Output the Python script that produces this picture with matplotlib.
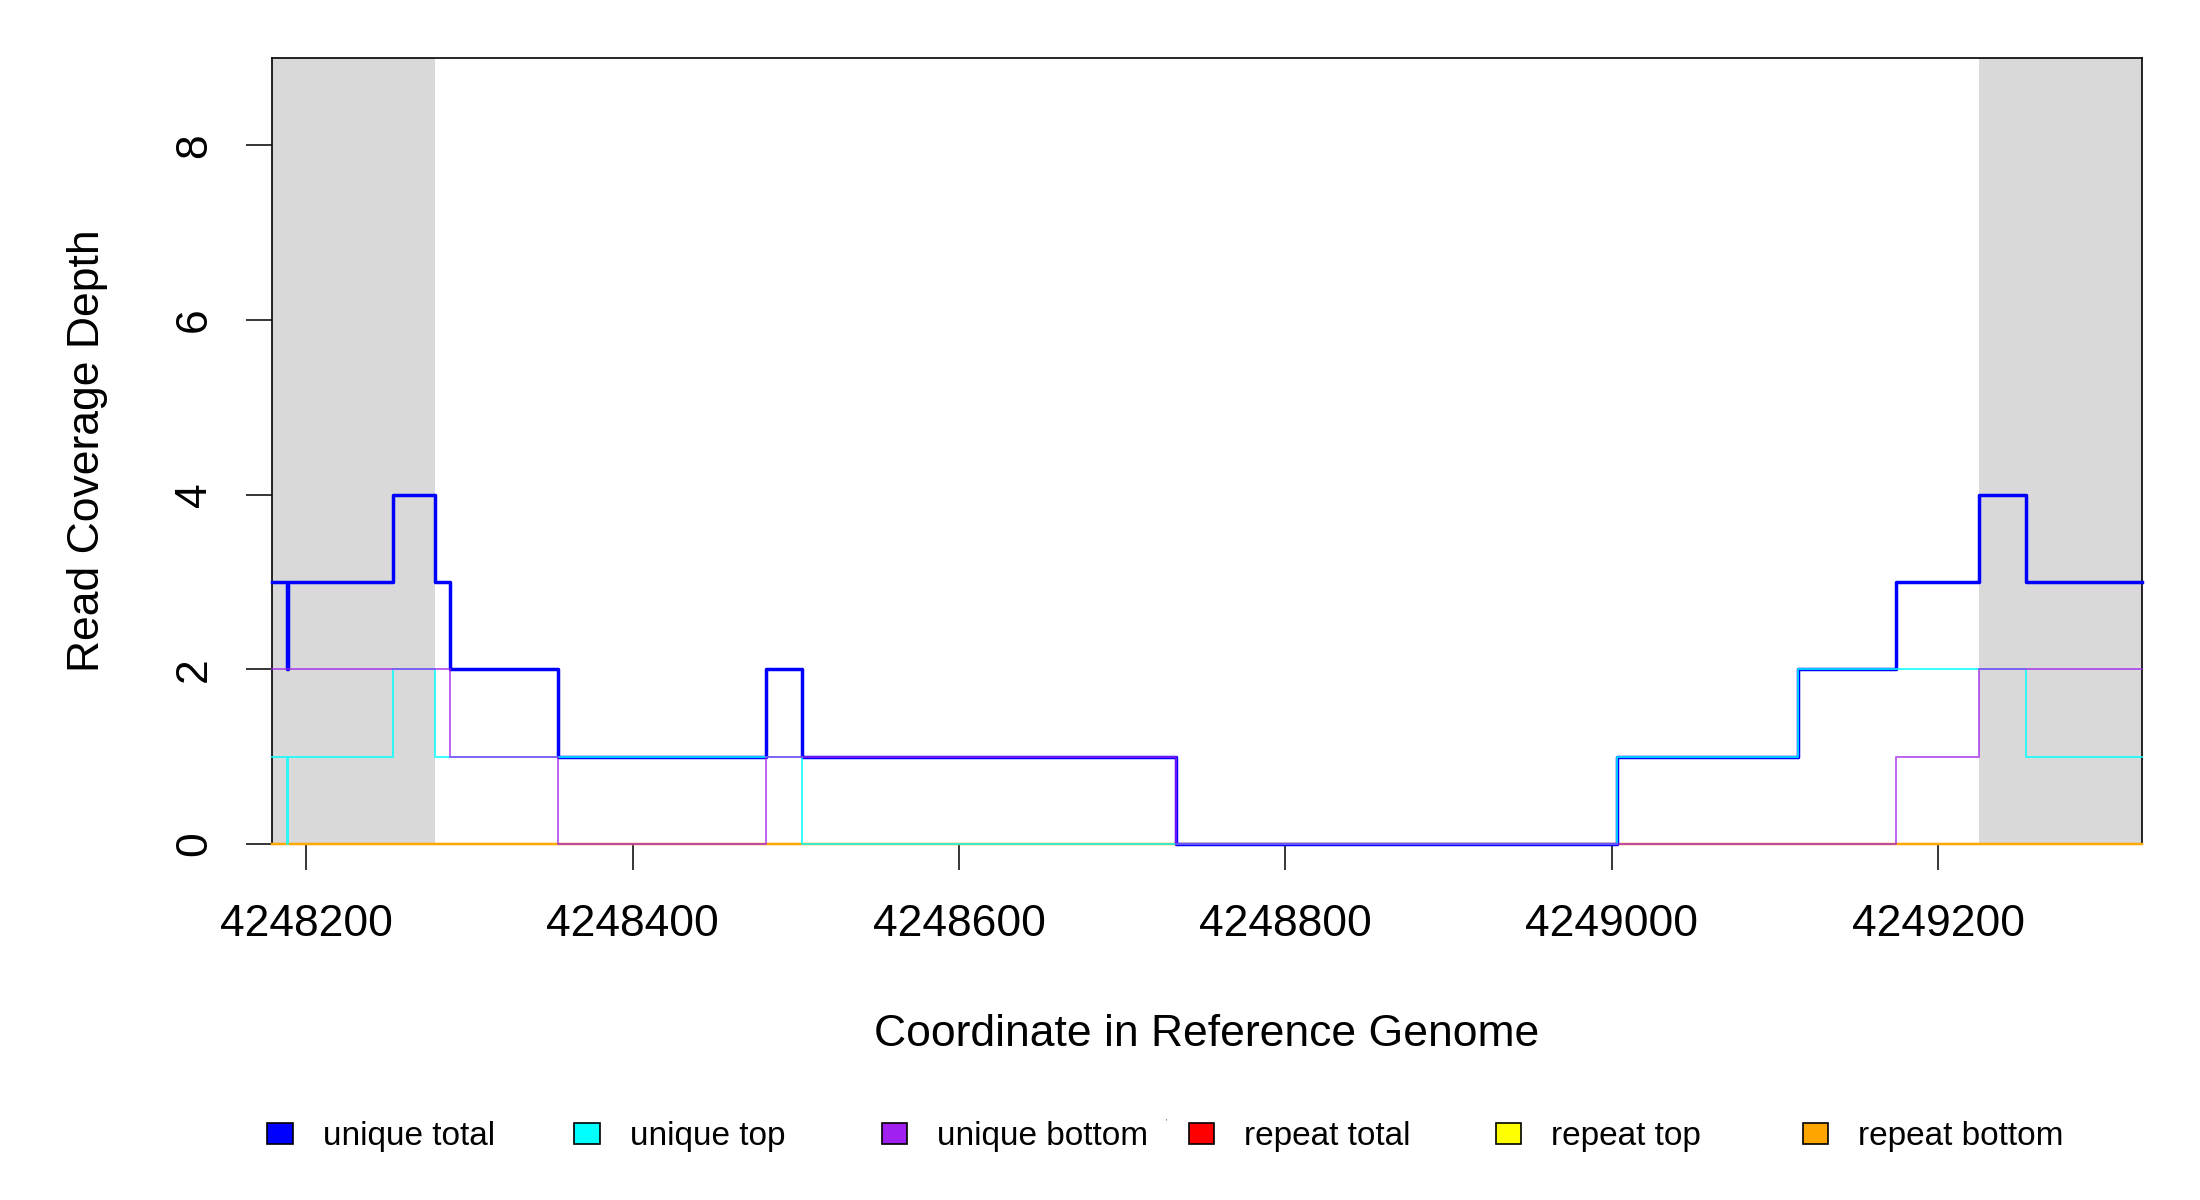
import matplotlib
matplotlib.use("Agg")
import matplotlib.pyplot as plt
from matplotlib.patches import Rectangle

plt.rcParams['font.family'] = ['Liberation Sans', 'DejaVu Sans']

# ---- data ----
positions = [4248179, 4248188, 4248189, 4248253, 4248279, 4248288, 4248354,
             4248482, 4248504, 4248733, 4249003, 4249114, 4249174, 4249225,
             4249254, 4249325]
unique_total = [3, 2, 3, 4, 3, 2, 1, 2, 1, 0, 1, 2, 3, 4, 3, 3]
unique_top = [1, 0, 1, 2, 1, 1, 1, 1, 0, 0, 1, 2, 2, 2, 1, 1]
unique_bottom = [2, 2, 2, 2, 2, 1, 0, 1, 1, 0, 0, 0, 1, 2, 2, 2]
repeat_total = [0] * len(positions)
repeat_top = [0] * len(positions)
repeat_bottom = [0] * len(positions)

shaded_regions = [(4248179, 4248279), (4249225, 4249325)]
x_limits = (4248179, 4249325)
y_limits = (0, 9)
x_ticks = [4248200, 4248400, 4248600, 4248800, 4249000, 4249200]
y_ticks = [0, 2, 4, 6, 8]

legend_labels = ["unique total", "unique top", "unique bottom",
                 "repeat total", "repeat top", "repeat bottom"]
legend_colors = ["#0000ff", "#00ffff", "#a020f0", "#ff0000", "#ffff00", "#ffa500"]

# ---- figure ----
W, H = 2200, 1200
fig = plt.figure(figsize=(22, 12), dpi=100)
ax = fig.add_axes([272 / W, 1 - 844 / H, (2142 - 272) / W, (844 - 58) / H])

for a, b in shaded_regions:
    ax.axvspan(a, b, color="#d9d9d9", lw=0, zorder=0)

# repeat lines first
for vals, col in [(repeat_total, legend_colors[3]), (repeat_top, legend_colors[4]),
                  (repeat_bottom, legend_colors[5])]:
    ax.step(positions, vals, where="post", color=col, lw=1.6, alpha=0.75,
            zorder=3, clip_on=False)

ax.step(positions, unique_total, where="post", color=legend_colors[0], lw=2.5,
        alpha=1.0, zorder=4, clip_on=False)
ax.step(positions, unique_top, where="post", color=legend_colors[1], lw=1.4,
        alpha=0.8, zorder=5, clip_on=False)
ax.step(positions, unique_bottom, where="post", color=legend_colors[2], lw=1.4,
        alpha=0.7, zorder=6, clip_on=False)

ax.set_xlim(*x_limits)
ax.set_ylim(*y_limits)
ax.set_xticks(x_ticks)
ax.set_xticklabels([str(t) for t in x_ticks])
ax.set_yticks(y_ticks)
ax.set_yticklabels([str(t) for t in y_ticks], rotation=90, va="center")
ax.tick_params(axis="both", length=19, width=1.1, labelsize=32, color="black")
ax.tick_params(axis="x", pad=24)
ax.tick_params(axis="y", pad=22)
for s in ax.spines.values():
    s.set_linewidth(1.2)
    s.set_color("black")
    s.set_zorder(2.5)

fig.text(1207 / W, 1 - 1035 / H, "Coordinate in Reference Genome", fontsize=32,
         ha="center", va="center")
fig.text(88 / W, 1 - 451 / H, "Read Coverage Depth", fontsize=32, rotation=90,
         ha="center", va="center")

# legend row
for i, (lab, col) in enumerate(zip(legend_labels, legend_colors)):
    cx = 280 + i * 307.1
    fig.add_artist(Rectangle(((cx - 12.7) / W, 1 - 1143.5 / H), 25.4 / W, 21 / H,
                             facecolor=col, edgecolor="black", lw=1.2,
                             transform=fig.transFigure))
    fig.text((cx + 42.7) / W, 1 - 1145 / H, lab, fontsize=24, ha="left",
             va="baseline")
fig.text(1166.7 / W, 1 - 1122 / H, "'", fontsize=5, ha="center", va="center")

fig.savefig("out.png", dpi=100)
